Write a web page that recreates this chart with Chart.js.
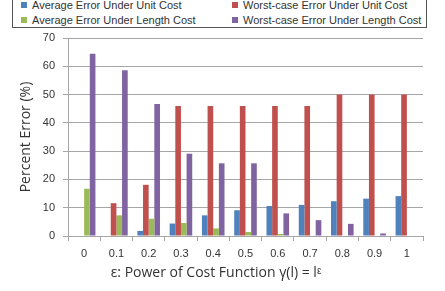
<!DOCTYPE html>
<html>
<head>
<meta charset="utf-8">
<script src="https://cdn.jsdelivr.net/npm/chart.js@4.4.1/dist/chart.umd.min.js"></script>
<style>
  html, body { margin: 0; padding: 0; background: #fff; }
  #wrap { position: relative; width: 445px; height: 291px; overflow: hidden; }
  #legend {
    position: absolute; left: 12px; top: -9px; width: 415px; height: 37px;
    border: 1px solid #555; box-sizing: border-box; background: #fff;
    font: 11px "Liberation Sans", sans-serif; color: #333;
  }
  .item { position: absolute; height: 12px; display: flex; align-items: center; white-space: nowrap; }
  .sw { width: 6px; height: 6px; margin-right: 5px; }
</style>
</head>
<body>
<div id="wrap">
  <canvas id="chart" width="445" height="291"></canvas>
  <div id="legend"></div>
</div>
<script>
const categories = ['0', '0.1', '0.2', '0.3', '0.4', '0.5', '0.6', '0.7', '0.8', '0.9', '1'];
const avgUnit     = [0, 0, 1.8, 4.4, 7.3, 9.1, 10.6, 11.0, 12.3, 13.2, 14.1];
const worstUnit   = [0, 11.6, 18.1, 46, 46, 46, 46, 46, 50, 50, 50];
const avgLength   = [16.7, 7.3, 6.1, 4.6, 2.7, 1.4, 0.7, 0.2, 0, 0, 0];
const worstLength = [64.4, 58.6, 46.7, 29.1, 25.7, 25.7, 8.0, 5.6, 4.3, 0.9, 0];
const seriesNames = [
  'Average Error Under Unit Cost',
  'Worst-case Error Under Unit Cost',
  'Average Error Under Length Cost',
  'Worst-case Error Under Length Cost'
];
const colors = ['#4F81BD', '#C0504D', '#9BBB59', '#8064A2'];
const xTitle = 'ε: Power of Cost Function γ(l) = lᵋ';

const font = '"Liberation Sans", sans-serif';
const titleFont = '"Open Sans", sans-serif';
const gridColor = '#a6a6a6';

// legend: 2 columns, Excel-like box cut at the top
const legendPos = [[8, 7], [219, 7], [8, 22], [219, 22]];
const lg = document.getElementById('legend');
seriesNames.forEach((name, i) => {
  const d = document.createElement('div');
  d.className = 'item';
  d.style.left = legendPos[i][0] + 'px';
  d.style.top = legendPos[i][1] + 'px';
  d.innerHTML = `<span class="sw" style="background:${colors[i]}"></span>${name}`;
  lg.appendChild(d);
});

// x title sits left of the plot centre in the original, so draw it here
const xTitlePlugin = {
  id: 'xTitle',
  afterDraw(chart) {
    const {ctx} = chart;
    const x = chart.scales.x;
    ctx.save();
    ctx.font = `14px ${titleFont}`;
    ctx.fillStyle = '#333';
    ctx.textAlign = 'center';
    ctx.textBaseline = 'middle';
    ctx.fillText(xTitle, x.left + 148, x.top + 37);
    ctx.restore();
  }
};

const data = [avgUnit, worstUnit, avgLength, worstLength];

new Chart(document.getElementById('chart'), {
  type: 'bar',
  data: {
    labels: categories,
    datasets: data.map((vals, i) => ({
      label: seriesNames[i],
      data: vals,
      backgroundColor: colors[i],
      borderWidth: 0,
      categoryPercentage: 0.7,
      barPercentage: 1.0
    }))
  },
  options: {
    responsive: false,
    animation: false,
    layout: { padding: { top: 38, right: 22, left: 0, bottom: 0 } },
    plugins: {
      legend: { display: false },
      tooltip: { enabled: false }
    },
    scales: {
      x: {
        offset: true,
        afterFit: (s) => { s.height = 55; },
        grid: { drawOnChartArea: false, drawTicks: true, tickLength: 5, color: gridColor, offset: true },
        border: { display: true, color: gridColor },
        ticks: { color: '#333', font: { family: font, size: 11 }, padding: 6, maxRotation: 0 },
        title: { display: false }
      },
      y: {
        min: 0,
        max: 70,
        afterFit: (s) => { s.width = 68; },
        grid: { color: gridColor, drawTicks: true, tickLength: 5 },
        border: { display: true, color: gridColor },
        ticks: { stepSize: 10, color: '#333', font: { family: font, size: 11 }, padding: 8 },
        title: {
          display: true,
          text: 'Percent Error (%)',
          color: '#333',
          font: { family: titleFont, size: 14 },
          padding: { top: 18, bottom: 0 }
        }
      }
    }
  },
  plugins: [xTitlePlugin]
});
</script>
</body>
</html>
